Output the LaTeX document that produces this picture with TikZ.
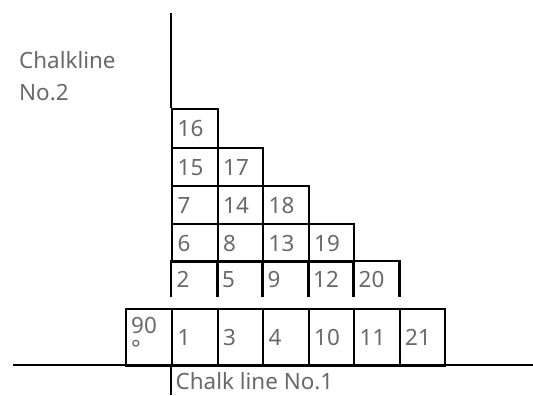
\documentclass[tikz,border=0pt]{standalone}
\usepackage{fontspec}
\setmainfont{Noto Sans}
\definecolor{txt}{RGB}{105,105,105}
\begin{document}
\begin{tikzpicture}[x=1bp,y=-1bp,
  line/.style={line width=2.4bp, draw=black},
  lbl/.style={text=txt, font=\fontsize{22.5}{32}\selectfont, inner sep=0pt},
  cell/.style={anchor=north west, minimum width=45bp, minimum height=38bp,
    inner xsep=5bp, inner ysep=0pt, text width=35bp, align=left,
    text=txt, font=\fontsize{22.5}{25}\selectfont},
  w/.style={minimum width=#1bp},
  h/.style={minimum height=#1bp},
  boxcell/.style={cell, line},
  opencell/.style={cell, minimum height=36bp},
  basecell/.style={cell, line, minimum height=57bp}]
\useasboundingbox (0,0) rectangle (533,395);
% upper staircase
\node[boxcell, w=46, h=39] (c16) at (171,108) {16};
\node[boxcell, w=46] (c15) at (171,147) {15};
\node[boxcell, w=45] (c17) at (217,147) {17};
\node[boxcell, w=46] (c7) at (171,185) {7};
\node[boxcell, w=45] (c14) at (217,185) {14};
\node[boxcell, w=46] (c18) at (262,185) {18};
\node[boxcell, w=46] (c6) at (171,223) {6};
\node[boxcell, w=45] (c8) at (217,223) {8};
\node[boxcell, w=46] (c13) at (262,223) {13};
\node[boxcell, w=45] (c19) at (308,223) {19};
\node[opencell, w=46] (c2) at (171,261) {2};
\node[opencell, w=45] (c5) at (217,261) {5};
\node[opencell, w=46] (c9) at (262,261) {9};
\node[opencell, w=45] (c12) at (308,261) {12};
\node[opencell, w=46] (c20) at (353,261) {20};
\foreach \n in {c2,c5,c9,c12,c20}
  \draw[line] (\n.south west) |- (\n.north east) -- (\n.south east);
% base row
\node[basecell, w=46] (b90) at (125,308) {};
\node[lbl, anchor=base west] (t90) at (131,333) {90};
\node[lbl, anchor=base west] (tdeg) at (131,356) {°};
\node[basecell, w=46] (b1) at (171,308) {1};
\node[basecell, w=45] (b3) at (217,308) {3};
\node[basecell, w=46] (b4) at (262,308) {4};
\node[basecell, w=45] (b10) at (308,308) {10};
\node[basecell, w=46] (b11) at (353,308) {11};
\node[basecell, w=45] (b21) at (399,308) {21};
% chalk lines
\coordinate (topL) at (171,13);
\coordinate (botL) at (171,395);
\coordinate (hL) at (13,365);
\coordinate (hR) at (533,365);
\draw[line] (topL) -- (c16.north west);
\draw[line] (b1.south west) -- (botL);
\draw[line] (hL) -- (hR);
% labels
\node[lbl, anchor=base west] (cl1) at (175.5,389) {Chalk line No.1};
\node[lbl, anchor=base west, align=left] (cl2) at (19,100) {Chalkline\\No.2};
\end{tikzpicture}
\end{document}
